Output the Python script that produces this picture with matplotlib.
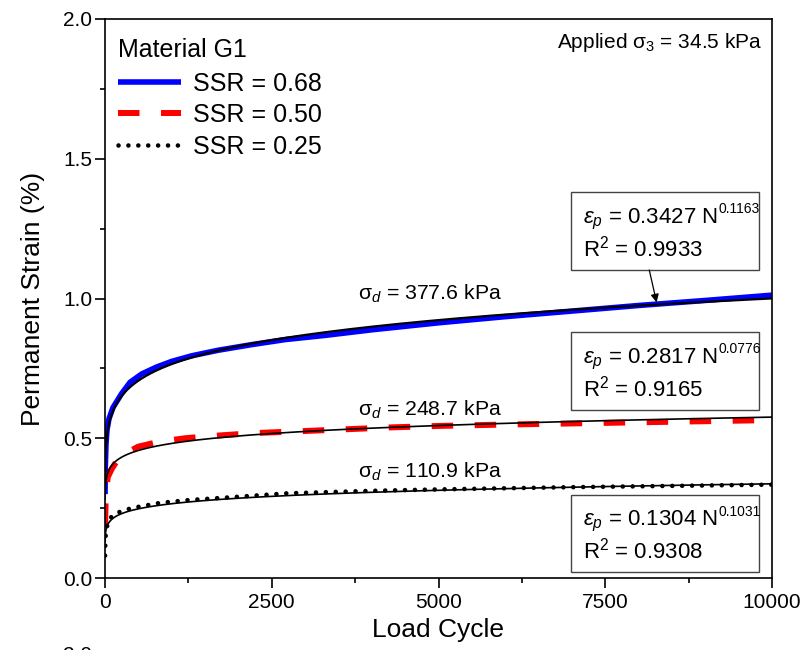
import matplotlib
matplotlib.use("Agg")
import matplotlib.pyplot as plt
import numpy as np
from matplotlib.patches import Rectangle

plt.rcParams['font.family'] = ['Liberation Sans', 'DejaVu Sans']
plt.rcParams['mathtext.fontset'] = 'custom'
plt.rcParams['mathtext.rm'] = 'Liberation Sans'
plt.rcParams['mathtext.it'] = 'Liberation Sans:italic'
plt.rcParams['mathtext.bf'] = 'Liberation Sans:bold'

# ---------------- data ----------------
n_068 = [1, 5, 15, 30, 60, 120, 250, 375, 550, 775, 1000, 1300, 1700, 2200,
         2700, 3300, 4000, 5000, 6000, 7000, 8000, 9000, 10000]
eps_068 = [0.30, 0.40, 0.48, 0.53, 0.57, 0.61, 0.66, 0.70, 0.73, 0.755, 0.775,
           0.795, 0.815, 0.835, 0.853, 0.868, 0.888, 0.913, 0.935, 0.955, 0.975,
           0.993, 1.012]

n_050 = [1, 10, 40, 100, 180, 300, 500, 800, 1200, 1600, 2200, 2900, 3600,
         4300, 5000, 6000, 7000, 8000, 9000, 10000]
eps_050 = [0.19, 0.28, 0.36, 0.39, 0.42, 0.445, 0.47, 0.487, 0.50, 0.508,
           0.518, 0.525, 0.532, 0.539, 0.544, 0.549, 0.553, 0.557, 0.561, 0.565]

n_025 = [1, 5, 10, 20, 40, 80, 150, 260, 400, 550, 830, 1260, 1830, 2730,
         4000, 5000, 6000, 7000, 8000, 9000, 10000]
eps_025 = [0.08, 0.12, 0.15, 0.17, 0.195, 0.215, 0.23, 0.24, 0.25, 0.257,
           0.269, 0.279, 0.288, 0.303, 0.312, 0.317, 0.321, 0.325, 0.328,
           0.331, 0.334]

series_labels = ['SSR = 0.68', 'SSR = 0.50', 'SSR = 0.25']
fit_a = [0.3427, 0.2817, 0.1304]
fit_b = [0.1163, 0.0776, 0.1031]
fit_r2 = ['0.9933', '0.9165', '0.9308']
sigma_d = ['377.6', '248.7', '110.9']

x_ticks = [0, 2500, 5000, 7500, 10000]
y_ticks = [0.0, 0.5, 1.0, 1.5, 2.0]

# ---------------- figure ----------------
fig = plt.figure(figsize=(8.04, 6.5), dpi=100)
ax = fig.add_axes([105/804, 1-578/650, 667/804, 559/650])

l1, = ax.plot(n_068, eps_068, color='#0000FF', lw=4.0, solid_capstyle='butt',
              label=series_labels[0], zorder=2)
l2, = ax.plot(n_050, eps_050, color='#FF0000', lw=4.3,
              linestyle=(0, (3.6, 3.6)), dash_capstyle='butt',
              label=series_labels[1], zorder=2)
l3, = ax.plot(n_025, eps_025, color='black', lw=3.3,
              linestyle=(0, (0.01, 2.15)), dash_capstyle='round',
              label=series_labels[2], zorder=2)

# power-law fits from the printed coefficients
nf = np.linspace(1, 10000, 2000)
fit_lw = [1.6, 1.2, 1.2]
for a, b, lw in zip(fit_a, fit_b, fit_lw):
    ax.plot(nf, a * nf ** b, color='black', lw=lw, zorder=3)

ax.set_xlim(0, 10000)
ax.set_ylim(0, 2.0)
ax.set_xticks(x_ticks)
ax.set_xticklabels([str(t) for t in x_ticks])
ax.set_yticks(y_ticks)
ax.set_yticklabels([f'{t:.1f}' for t in y_ticks])
ax.set_xticks([1250, 3750, 6250, 8750], minor=True)
ax.set_yticks([0.25, 0.75, 1.25, 1.75], minor=True)
ax.tick_params(axis='both', which='both', direction='out', labelsize=15,
               width=1.2, top=False, right=False)
ax.tick_params(axis='both', which='major', length=7.0)
ax.tick_params(axis='both', which='minor', length=3.8)
ax.tick_params(axis='y', which='major', pad=2)
ax.tick_params(axis='x', which='major', pad=4)
for s in ax.spines.values():
    s.set_linewidth(1.2)

ax.set_xlabel('Load Cycle', fontsize=19, labelpad=4)
ax.set_ylabel('Permanent Strain (%)', fontsize=19, labelpad=13)

leg = ax.legend(handles=[l1, l2, l3], title='Material G1', loc='upper left',
                bbox_to_anchor=(0.012, 0.975), frameon=False, fontsize=18,
                title_fontsize=18, handlelength=2.5, handletextpad=0.5,
                labelspacing=0.3, borderaxespad=0, borderpad=0.2,
                alignment='left')
leg._legend_box.sep = 7

ax.text(0.985, 0.958, r'Applied $\mathrm{\sigma}_3$ = 34.5 kPa',
        transform=ax.transAxes, ha='right', va='center', fontsize=15)

# sigma_d labels
sig_pos = [(4870, 1.016), (4870, 0.601), (4870, 0.379)]
for (sx, sy), sd in zip(sig_pos, sigma_d):
    ax.text(sx, sy, r'$\mathrm{\sigma}_{d}$ = ' + sd + ' kPa', ha='center',
            va='center', fontsize=15.3)

# fit boxes
box_y = [(1.102, 1.381), (0.601, 0.880), (0.0215, 0.297)]
for (y0, y1), a, b, r2 in zip(box_y, fit_a, fit_b, fit_r2):
    ax.add_patch(Rectangle((6985, y0), 9805 - 6985, y1 - y0, fill=True,
                           facecolor='white', edgecolor='#444444', lw=1.0,
                           zorder=4))
    ym = (y0 + y1) / 2
    t1 = ax.text(7170, ym + 0.042, r'$\varepsilon_p$ = ' + f'{a:.4f}' + ' N',
                 ha='left', va='center', fontsize=16, zorder=5)
    ax.annotate(f'{b:.4f}', xy=(1.0, 0.74), xycoords=t1, ha='left',
                va='baseline', fontsize=10, zorder=5)
    ax.text(7170, ym - 0.062, r'R$^2$ = ' + r2, ha='left', va='center',
            fontsize=16, zorder=5)

ax.annotate('', xy=(8270, 0.986), xytext=(8160, 1.102),
            arrowprops=dict(arrowstyle='-|>', color='black', lw=0.9,
                            mutation_scale=12, shrinkA=0, shrinkB=0),
            zorder=5)

# partially visible tick label of the panel below
fig.text(92/804, 1-646/650, '2.0', ha='right', va='top', fontsize=15)

fig.savefig('out.png', dpi=100)
